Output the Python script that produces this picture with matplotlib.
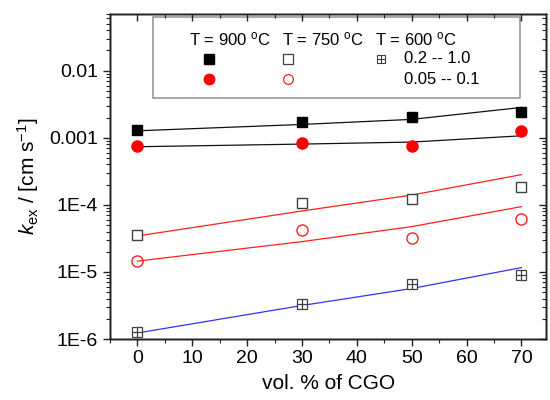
import matplotlib
matplotlib.use('Agg')
import matplotlib.pyplot as plt
from matplotlib.patches import Rectangle
from matplotlib.ticker import FixedLocator, FixedFormatter, LogLocator, NullFormatter, MultipleLocator

plt.rcParams['font.family'] = ['Liberation Sans', 'DejaVu Sans']
plt.rcParams['mathtext.fontset'] = 'custom'
plt.rcParams['mathtext.rm'] = 'Liberation Sans'
plt.rcParams['mathtext.it'] = 'Liberation Sans:italic'

# ---- data ----
cgo = [0, 30, 50, 70]
k900_high = [1.30e-3, 1.69e-3, 2.03e-3, 2.41e-3]
k900_low = [7.5e-4, 8.3e-4, 7.6e-4, 1.27e-3]
k750_high = [3.53e-5, 1.07e-4, 1.24e-4, 1.87e-4]
k750_low = [1.46e-5, 4.27e-5, 3.18e-5, 6.24e-5]
k600_high = [1.27e-6, 3.27e-6, 6.65e-6, 9.14e-6]

fit900_high = [1.27e-3, 1.58e-3, 1.88e-3, 2.83e-3]
fit900_low = [7.35e-4, 8.05e-4, 8.63e-4, 1.07e-3]
fit750_high = [3.44e-5, 8.1e-5, 1.40e-4, 2.82e-4]
fit750_low = [1.45e-5, 2.83e-5, 4.74e-5, 9.4e-5]
fit600_high = [1.23e-6, 3.16e-6, 5.66e-6, 1.16e-5]

ytick_vals = [1e-6, 1e-5, 1e-4, 1e-3, 1e-2]
ytick_labels = ['1E-6', '1E-5', '1E-4', '0.001', '0.01']
header_labels = ['T = 900 $^{\\rm o}$C', 'T = 750 $^{\\rm o}$C', 'T = 600 $^{\\rm o}$C']
range_labels = ['0.2 -- 1.0', '0.05 -- 0.1']

fig = plt.figure(figsize=(5.5, 4), dpi=100)
ax = fig.add_axes([0.2, 0.1525, 0.793, 0.8125])

ax.set_yscale('log')
ax.set_xlim(-5, 74.5)
ax.set_ylim(1e-6, 0.07)

black = '#111111'
red = '#ff2020'
blue = '#3333ff'
grey = '#404040'

# fit lines
ax.plot(cgo, fit900_high, color=black, lw=0.9, zorder=2)
ax.plot(cgo, fit900_low, color=black, lw=0.9, zorder=2)
ax.plot(cgo, fit750_high, color=red, lw=0.9, zorder=2)
ax.plot(cgo, fit750_low, color=red, lw=0.9, zorder=2)
ax.plot(cgo, fit600_high, color=blue, lw=0.9, zorder=2)

# data markers
ax.plot(cgo, k900_high, 's', color='black', ms=7, zorder=3, ls='none')
ax.plot(cgo, k900_low, 'o', color='#ff0000', ms=8, zorder=3, ls='none')
ax.plot(cgo, k750_high, 's', mfc='white', mec=grey, mew=1, ms=7, zorder=3, ls='none')
ax.plot(cgo, k750_low, 'o', mfc='none', mec=red, mew=1, ms=8, zorder=3, ls='none')
ax.plot(cgo, k600_high, 's', mfc='white', mec=grey, mew=0.9, ms=7, zorder=3, ls='none')
ax.plot(cgo, k600_high, '+', color=grey, mew=0.9, ms=7, zorder=4, ls='none')

# ticks
ax.xaxis.set_major_locator(MultipleLocator(10))
ax.xaxis.set_minor_locator(MultipleLocator(5))
ax.yaxis.set_major_locator(FixedLocator(ytick_vals))
ax.yaxis.set_major_formatter(FixedFormatter(ytick_labels))
ax.yaxis.set_minor_locator(LogLocator(base=10, subs=range(2, 10)))
ax.yaxis.set_minor_formatter(NullFormatter())
ax.tick_params(which='both', direction='out', labelsize=14, top=False, right=False, color='#222222')
ax.tick_params(which='major', length=5, width=1)
ax.tick_params(which='minor', length=3, width=0.8)
ax.tick_params(axis='x', pad=3)

ax_r = ax.twinx()
ax_r.set_yscale('log')
ax_r.set_ylim(ax.get_ylim())
ax_r.yaxis.set_major_locator(FixedLocator(ytick_vals))
ax_r.yaxis.set_minor_locator(LogLocator(base=10, subs=range(2, 10)))
ax_r.tick_params(which='both', direction='in', labelright=False, color='#222222')
ax_r.tick_params(which='major', length=5, width=1)
ax_r.tick_params(which='minor', length=3, width=0.8)

ax_t = ax.twiny()
ax_t.set_xlim(ax.get_xlim())
ax_t.xaxis.set_major_locator(MultipleLocator(10))
ax_t.xaxis.set_minor_locator(MultipleLocator(5))
ax_t.tick_params(which='both', direction='in', labeltop=False, color='#222222')
ax_t.tick_params(which='major', length=5, width=1)
ax_t.tick_params(which='minor', length=3, width=0.8)

for a in (ax, ax_r, ax_t):
    for s in a.spines.values():
        s.set_linewidth(1.0)
        s.set_color('#222222')

ax.set_xlabel('vol. % of CGO', fontsize=15, labelpad=5)
ax.set_ylabel(r'$k_{\rm ex}$ / [cm s$^{-1}$]', fontsize=15, labelpad=6)

# legend box
box = Rectangle((0.0986, 0.742), 0.8414, 0.249, transform=ax.transAxes,
                facecolor='white', edgecolor='#909090', lw=1.1, zorder=5)
ax.add_patch(box)
hx = [0.275, 0.489, 0.701]
for xx, t in zip(hx, header_labels):
    ax.text(xx, 0.923, t, transform=ax.transAxes, ha='center', va='center', fontsize=12, zorder=6)
mx = [0.227, 0.408, 0.622]
ax.plot([mx[0]], [0.862], 's', color='black', ms=6.5, transform=ax.transAxes, zorder=6, clip_on=False)
ax.plot([mx[1]], [0.862], 's', mfc='white', mec=grey, mew=0.9, ms=6.5, transform=ax.transAxes, zorder=6, clip_on=False)
ax.plot([mx[2]], [0.862], 's', mfc='white', mec=grey, mew=0.8, ms=6, transform=ax.transAxes, zorder=6, clip_on=False)
ax.plot([mx[2]], [0.862], '+', color=grey, mew=0.8, ms=6, transform=ax.transAxes, zorder=7, clip_on=False)
ax.plot([mx[0]], [0.80], 'o', color='#ff0000', ms=7.5, transform=ax.transAxes, zorder=6, clip_on=False)
ax.plot([mx[1]], [0.80], 'o', mfc='none', mec=red, mew=0.9, ms=7, transform=ax.transAxes, zorder=6, clip_on=False)
ax.text(0.674, 0.862, range_labels[0], transform=ax.transAxes, ha='left', va='center', fontsize=12, zorder=6)
ax.text(0.674, 0.80, range_labels[1], transform=ax.transAxes, ha='left', va='center', fontsize=12, zorder=6)

fig.savefig('out.png', dpi=100)
